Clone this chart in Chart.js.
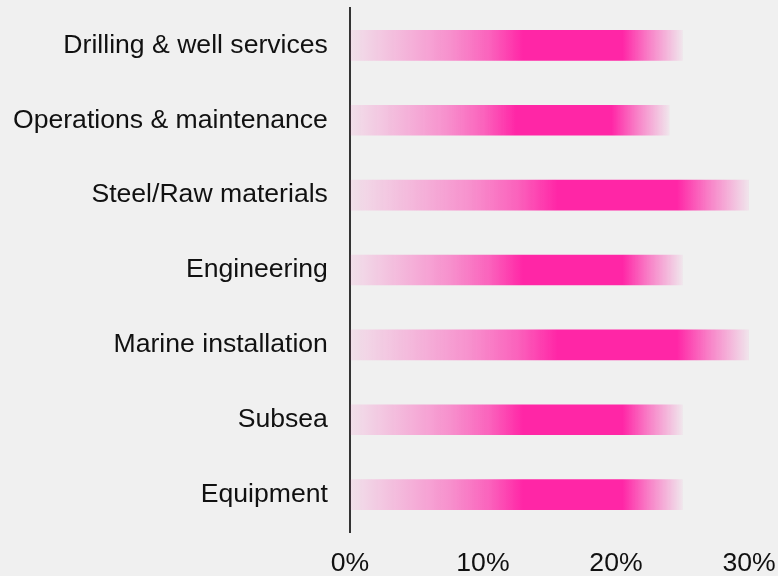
<!DOCTYPE html>
<html>
<head>
<meta charset="utf-8">
<script src="https://cdn.jsdelivr.net/npm/chart.js@4/dist/chart.umd.min.js"></script>
<style>
  html, body { margin: 0; padding: 0; background: #f0f0f0; }
  #wrap { width: 778px; height: 576px; position: relative; }
</style>
</head>
<body>
<div id="wrap"><canvas id="chart"></canvas></div>
<script>
// Share of spend by category (%)
const categories = [
  'Drilling & well services',
  'Operations & maintenance',
  'Steel/Raw materials',
  'Engineering',
  'Marine installation',
  'Subsea',
  'Equipment'
];
const shares = [25, 24, 30, 25, 30, 25, 25];
const xTicks = [0, 10, 20, 30];

const PINK = [255, 38, 166];
const rgba = a => `rgba(${PINK[0]},${PINK[1]},${PINK[2]},${a})`;
const FONT = { family: '"Liberation Sans", Arial, sans-serif', size: 26.6 };
const Y_PAD = 22;
const X_PAD = 16;

// Each bar fades in from its base, stays solid, then fades out at its end.
function barGradient(ctx) {
  const chart = ctx.chart;
  if (!chart.chartArea || ctx.type !== 'data') return rgba(1);
  const xs = chart.scales.x;
  const x0 = xs.getPixelForValue(0);
  const x1 = xs.getPixelForValue(ctx.raw);
  const g = chart.ctx.createLinearGradient(x0, 0, x1, 0);
  g.addColorStop(0.0, rgba(0.08));
  g.addColorStop(0.15, rgba(0.27));
  g.addColorStop(0.3, rgba(0.47));
  g.addColorStop(0.42, rgba(0.7));
  g.addColorStop(0.52, rgba(1));
  g.addColorStop(0.82, rgba(1));
  g.addColorStop(0.9, rgba(0.55));
  g.addColorStop(1.0, rgba(0.05));
  return g;
}

new Chart(document.getElementById('chart'), {
  type: 'bar',
  data: {
    labels: categories,
    datasets: [{
      data: shares,
      backgroundColor: barGradient,
      borderWidth: 0,
      barThickness: 30
    }]
  },
  options: {
    indexAxis: 'y',
    responsive: true,
    maintainAspectRatio: false,
    animation: false,
    layout: { padding: { left: 13, right: 0, top: 8, bottom: 0 } },
    plugins: { legend: { display: false }, tooltip: { enabled: false } },
    scales: {
      x: {
        min: 0,
        max: 30,
        afterBuildTicks: axis => { axis.ticks = xTicks.map(v => ({ value: v })); },
        grid: { display: false, drawTicks: false },
        border: { display: false },
        ticks: {
          color: '#111',
          font: FONT,
          padding: X_PAD,
          callback: v => v + '%'
        },
        // tick labels sit X_PAD below the plot; leave room for the last label at the right
        afterFit: axis => {
          axis.height = 44;
          axis.paddingLeft = 0;
          axis.paddingRight = 29;
        }
      },
      y: {
        grid: { display: false, drawTicks: false },
        border: { display: true, color: '#333', width: 2 },
        ticks: {
          color: '#111',
          font: FONT,
          padding: Y_PAD
        },
        // single gap between labels and axis line; no extra vertical room
        afterFit: axis => {
          axis.width -= Y_PAD;
          axis.paddingTop = 0;
          axis.paddingBottom = 0;
        }
      }
    }
  }
});
</script>
</body>
</html>
